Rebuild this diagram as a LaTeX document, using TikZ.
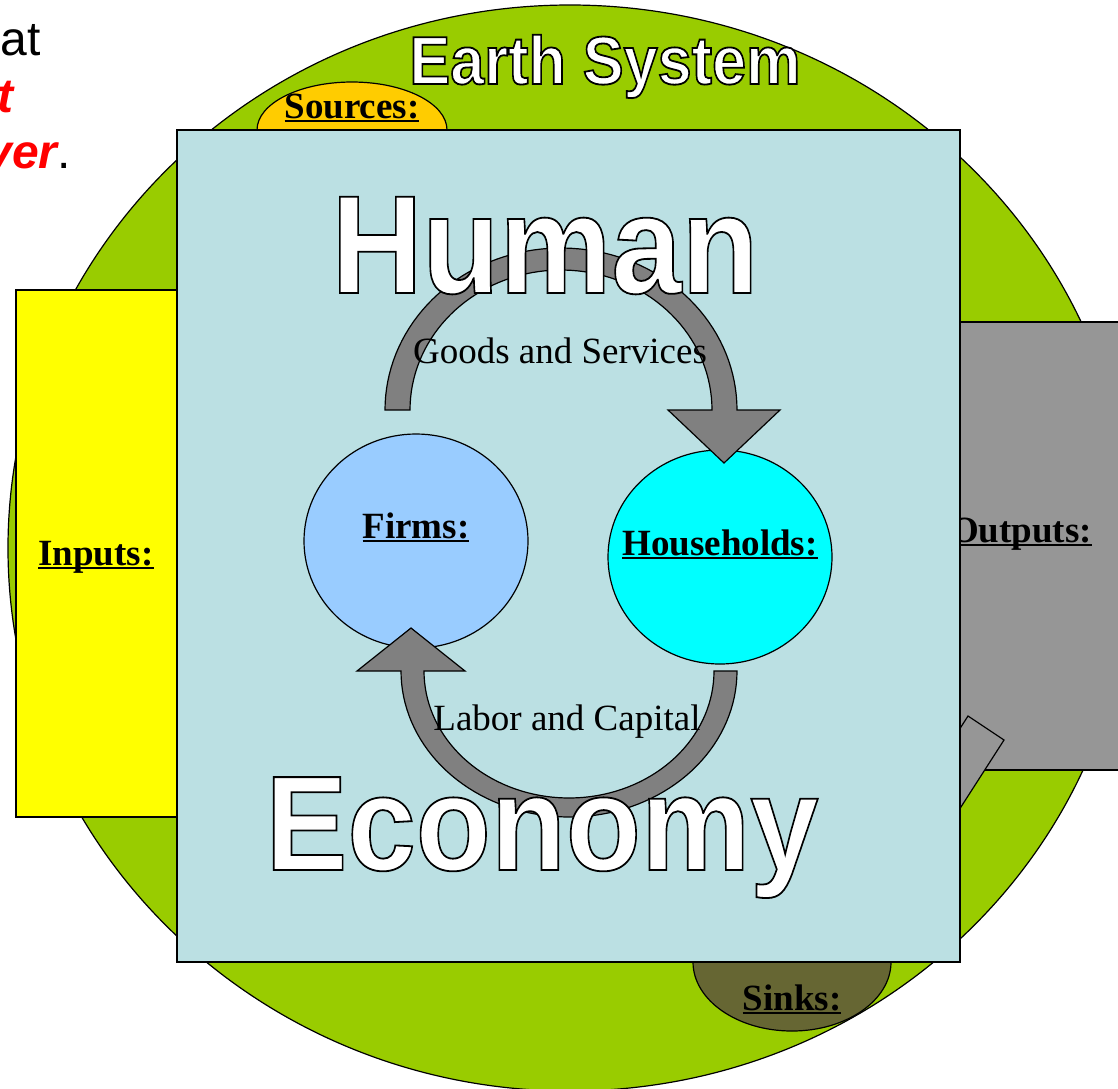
\documentclass[tikz,border=0pt]{standalone}
\usepackage{fontspec}
\setmainfont{Liberation Serif}
\newfontfamily\arial{Liberation Sans}
\usepackage{graphicx}
\usetikzlibrary{shapes.geometric, positioning, calc}

\definecolor{earth}{RGB}{153,204,0}
\definecolor{sourcegold}{RGB}{255,204,0}
\definecolor{sinkolive}{RGB}{102,102,51}
\definecolor{economyblue}{RGB}{187,224,227}
\definecolor{inputyellow}{RGB}{255,255,0}
\definecolor{outputgray}{RGB}{150,150,150}
\definecolor{flowgray}{RGB}{128,128,128}
\definecolor{firmblue}{RGB}{153,204,255}
\definecolor{househcyan}{RGB}{0,255,255}

% underlined label
\newcommand{\ulabel}[1]{\setbox0\hbox{#1}\rlap{\rule[-4pt]{\wd0}{2pt}}\box0}
% white letters, black outline
\newcommand{\hollow}[1]{\textcolor{white}{\special{pdf:literal direct 2 Tr 1.8 w 0 0 0 RG}#1\special{pdf:literal direct 0 Tr}}}

\begin{document}
\begin{tikzpicture}[x=1pt, y=-1pt,
    shape line/.style={draw=black, line width=1.2pt},
    tag/.style={inner sep=0pt, anchor=base, font=\fontsize{37}{40}\selectfont\bfseries},
    flowtext/.style={inner sep=0pt, anchor=base, font=\fontsize{37}{40}\selectfont},
    bigword/.style={inner sep=0pt, anchor=base},
    slide/.style={inner sep=0pt, anchor=base east, font=\arial\fontsize{48}{56}\selectfont},
    sector/.style={shape=ellipse, shape line, minimum width=224pt, minimum height=214pt, inner sep=0pt},
    band/.style={shape line, fill=flowgray, line join=miter}]

	\useasboundingbox (0,0) rectangle (1118,1088);
	\clip (0,0) rectangle (1118,1088);

	% Earth
	\draw[shape line, fill=earth] (570,548) ellipse [x radius=562pt, y radius=543pt];
	\draw[shape line, fill=sourcegold] (352,130) ellipse [x radius=95pt, y radius=48pt];
	\draw[shape line, fill=sinkolive] (792,962) ellipse [x radius=99pt, y radius=69pt];

	% Inputs and outputs
	\draw[shape line, fill=inputyellow] (16,290) rectangle (177,817);
	\draw[shape line, fill=outputgray] (960,322) rectangle (1130,770);
	\node[tag] (outputs) at (1021,542) {\ulabel{Outputs:}};
	\draw[shape line, fill=outputgray] (968,716) -- (1004,740) -- (896,908) -- (860,884) -- cycle;

	% Economy
	\draw[shape line, fill=economyblue] (177,130) rectangle (960,962);

	\node[tag] (inputs) at (96,565) {\ulabel{Inputs:}};
	\node[tag] (sources) at (352,118) {\ulabel{Sources:}};
	\node[tag] (sinks) at (792,1010) {\ulabel{Sinks:}};

	\node[sector, fill=firmblue] (firms) at (416,541) {};
	\node[tag] (firmslabel) at ([yshift=3pt]firms.center) {\ulabel{Firms:}};

	\node[sector, fill=househcyan] (households) at (720,557) {};
	\node[tag] (householdslabel) at ([yshift=2pt]households.center) {\ulabel{Households:}};

	% Flows
	\draw[band] plot[domain=180:360, samples=72] ({561+176*cos(\x)}, {410+162*sin(\x)})
		-- (780,410) -- (724,463) -- (668,410)
		-- plot[domain=360:180, samples=72] ({561+151*cos(\x)}, {410+140*sin(\x)}) -- cycle;
	\draw[band] plot[domain=0:180, samples=72] ({569+168*cos(\x)}, {671+146*sin(\x)})
		-- (357,671) -- (411,628) -- (465,671)
		-- plot[domain=180:0, samples=72] ({569+145*cos(\x)}, {671+127*sin(\x)}) -- cycle;

	% Titles
	\node[bigword, font=\arial\bfseries\fontsize{68}{72}\selectfont] (earthsystem) at (605,84)
		{\scalebox{0.9}[1]{\hollow{Earth System}}};
	\node[bigword, font=\arial\bfseries\fontsize{140}{150}\selectfont] (human) at (545,293)
		{\scalebox{0.9}[1]{\hollow{Human}}};
	\node[bigword, font=\arial\bfseries\fontsize{135}{145}\selectfont] (economy) at (542,870)
		{\scalebox{0.91}[1]{\hollow{Economy}}};

	\node[flowtext] (goods) at (560,363) {Goods and Services};
	\node[flowtext] (labor) at (567,730) {Labor and Capital};

	% Slide text
	\node[slide] (lineone) at (41,55) {at};
	\node[slide, text=red, font=\arial\bfseries\itshape\fontsize{48}{56}\selectfont] (linetwo) at (14,112) {t};
	\node[slide] (linethree) at (71,168) {\textcolor{red}{\bfseries\itshape ver}.};
\end{tikzpicture}
\end{document}
